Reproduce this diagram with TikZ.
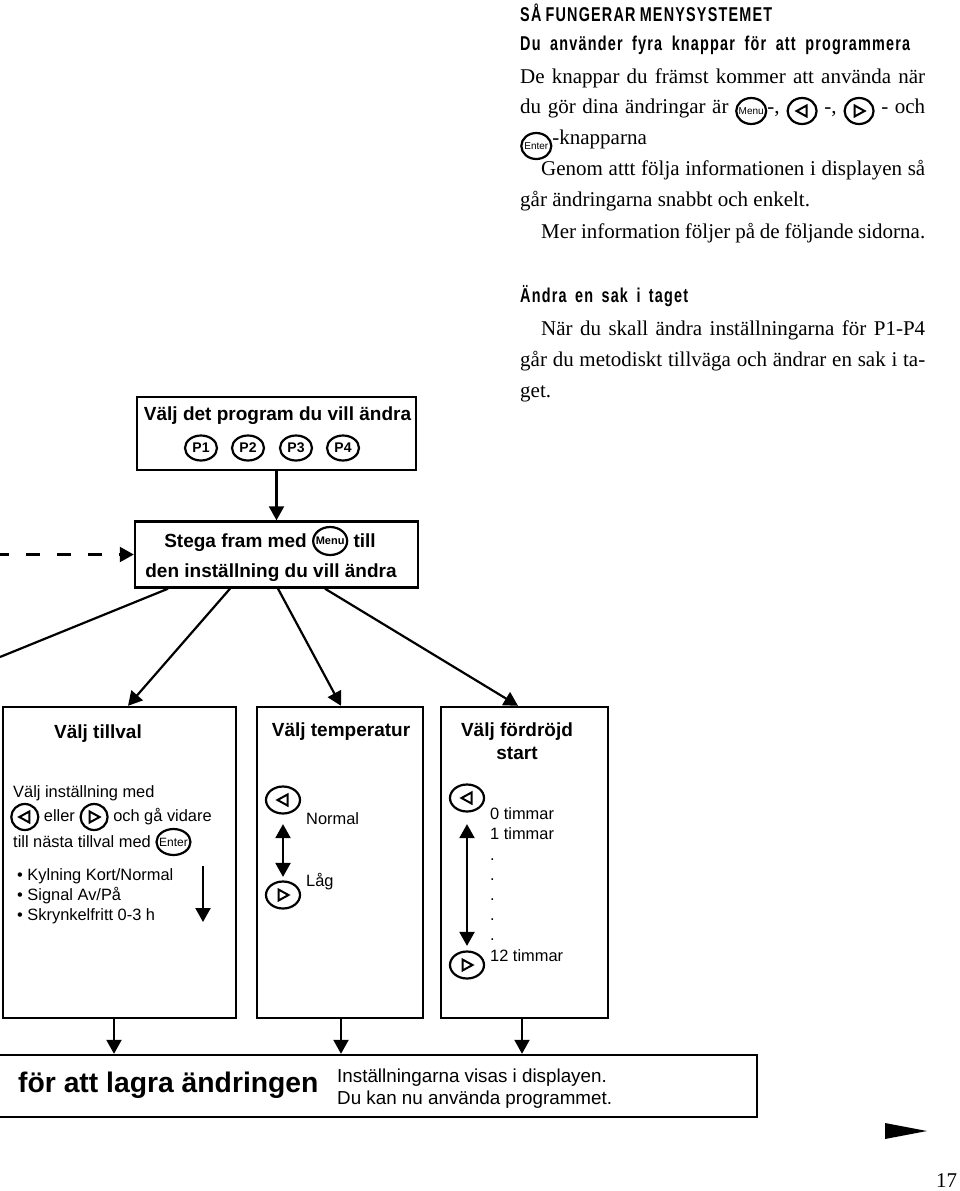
\documentclass[tikz,border=0pt]{standalone}
\usepackage{fontspec}
\setmainfont{Liberation Serif}
\setsansfont{Liberation Sans}
\newfontfamily\rubrikfont[FakeStretch=0.72,LetterSpace=6]{Liberation Sans}
\usetikzlibrary{arrows.meta,shapes.geometric}

\tikzset{
  ruta/.style={draw, line width=2.4pt, inner sep=0pt},
  pil/.style={line width=2.2pt, -{Triangle[length=14pt,width=15pt]}},
  dpil/.style={line width=2.2pt, {Triangle[length=14pt,width=15pt]}-{Triangle[length=14pt,width=15pt]}},
  knappform/.style={ellipse, draw, line width=2.2pt, inner sep=0pt, anchor=center},
  triangel/.style={line width=2pt, line join=miter},
  tekst/.style={inner sep=0pt, anchor=base west},
  fet/.style={inner sep=0pt, anchor=base, font=\sffamily\bfseries\fontsize{19}{22}\selectfont},
  brod/.style={tekst, font=\sffamily\fontsize{16.4}{20}\selectfont},
  serif/.style={tekst, font=\rmfamily\fontsize{21}{31}\selectfont},
  rubrik/.style={tekst, font=\rubrikfont\bfseries\fontsize{20}{22}\selectfont},
}

% knappar i texten
\newcommand{\knapp}[5]{\tikz[baseline=#1]{\node[knappform, minimum width=#2, minimum height=#3] (k) at (0pt,0pt) {};
  \node[inner sep=0pt, anchor=center, font=\sffamily\fontsize{#4}{#4}\selectfont] (kt) at (k.center) {#5};}}
\newcommand{\vknapp}[3]{\tikz[baseline=#1]{\node[knappform, minimum width=#2, minimum height=#3] (k) at (0pt,0pt) {};
  \draw[triangel] (4.5pt,5.5pt) -- (-5.5pt,0pt) -- (4.5pt,-5.5pt) -- cycle;}}
\newcommand{\hknapp}[3]{\tikz[baseline=#1]{\node[knappform, minimum width=#2, minimum height=#3] (k) at (0pt,0pt) {};
  \draw[triangel] (-4.5pt,5.5pt) -- (5.5pt,0pt) -- (-4.5pt,-5.5pt) -- cycle;}}

\begin{document}
\begin{tikzpicture}[x=1pt, y=-1pt]
\useasboundingbox (0,0) rectangle (960,1191);

% text till hoger
\node[rubrik] (h1) at (520,21) {\makebox[252pt][s]{SÅ FUNGERAR MENYSYSTEMET}};
\node[rubrik] (h2) at (520,50) {\makebox[390pt][s]{Du använder fyra knappar för att programmera}};
\node[serif] (t1) at (520,83) {\makebox[405pt][s]{De knappar du främst kommer att använda när}};
\node[serif] (t2) at (520,113) {\makebox[405pt][s]{du gör dina ändringar är \knapp{-2pt}{30pt}{26pt}{10}{Menu}-, \vknapp{-2pt}{29pt}{26pt} -, \hknapp{-2pt}{29pt}{26pt} - och}};
\node[serif] (t3) at (520,144) {\knapp{2pt}{30pt}{26pt}{10}{Enter}-knapparna};
\node[serif] (t4) at (541,175) {\makebox[384pt][s]{Genom attt följa informationen i displayen så}};
\node[serif] (t5) at (520,206) {går ändringarna snabbt och enkelt.};
\node[serif] (t6) at (541,238) {\makebox[384pt][s]{Mer information följer på de följande sidorna.}};
\node[rubrik] (h3) at (520,302) {\makebox[168pt][s]{Ändra en sak i taget}};
\node[serif] (t7) at (541,335) {\makebox[384pt][s]{När du skall ändra inställningarna för P1-P4}};
\node[serif] (t8) at (520,366) {\makebox[405pt][s]{går du metodiskt tillväga och ändrar en sak i ta-}};
\node[serif] (t9) at (520,397) {get.};

% rutorna
\node[ruta, minimum width=279pt, minimum height=73pt] (prog) at (276.5,433.5) {};
\node[ruta, minimum width=283pt, minimum height=66pt] (stega) at (276.5,554.5) {};
\node[ruta, minimum width=233pt, minimum height=311pt] (tillval) at (119.5,862.5) {};
\node[ruta, minimum width=166pt, minimum height=311pt] (temp) at (340,862.5) {};
\node[ruta, minimum width=167pt, minimum height=311pt] (fordrojd) at (524.5,862.5) {};
\node[ruta, minimum width=760pt, minimum height=62pt] (lagra) at (377,1086) {};

% valj program
\node[fet] (progtxt) at (277.5,420) {Välj det program du vill ändra};
\node[knappform, minimum width=32pt, minimum height=25pt, font=\sffamily\bfseries\fontsize{14}{14}\selectfont] (p1) at (201,448) {P1};
\node[knappform, minimum width=32pt, minimum height=25pt, font=\sffamily\bfseries\fontsize{14}{14}\selectfont] (p2) at (248,448) {P2};
\node[knappform, minimum width=32pt, minimum height=25pt, font=\sffamily\bfseries\fontsize{14}{14}\selectfont] (p3) at (296,448) {P3};
\node[knappform, minimum width=32pt, minimum height=25pt, font=\sffamily\bfseries\fontsize{14}{14}\selectfont] (p4) at (343,448) {P4};

% stega fram
\node[fet] (stega1) at (270,547) {Stega fram med \knapp{-6pt}{34pt}{28pt}{11}{Menu} till};
\node[fet] (stega2) at (271,577) {den inställning du vill ändra};

% valj tillval
\node[fet] (tvtxt) at (98,738) {Välj tillval};
\node[brod] (tv1) at (13,797) {Välj inställning med};
\node[brod] (tv2) at (10,821) {\vknapp{-4pt}{27pt}{26pt} eller \hknapp{-4pt}{27pt}{26pt} och gå vidare};
\node[brod] (tv3) at (13,847) {till nästa tillval med \knapp{-5pt}{34pt}{26pt}{12}{Enter}};
\node[brod] (tv4) at (17,880) {• Kylning Kort/Normal};
\node[brod] (tv5) at (17,900) {• Signal Av/På};
\node[brod] (tv6) at (17,920) {• Skrynkelfritt 0-3 h};
\coordinate (ned1) at (203,866);
\coordinate (ned2) at (203,922);
\draw[pil] (ned1) -- (ned2);

% valj temperatur
\node[fet] (temptxt) at (341,736) {Välj temperatur};
\node[knappform, minimum width=34pt, minimum height=27pt] (tv) at (283,800) {};
\node[knappform, minimum width=34pt, minimum height=27pt] (th) at (283,895) {};
\draw[triangel] ([shift={(4.5,5.5)}]tv.center) -- ([shift={(-5.5,0)}]tv.center) -- ([shift={(4.5,-5.5)}]tv.center) -- cycle;
\draw[triangel] ([shift={(-4.5,5.5)}]th.center) -- ([shift={(5.5,0)}]th.center) -- ([shift={(-4.5,-5.5)}]th.center) -- cycle;
\draw[dpil, shorten <=9.5pt, shorten >=3.5pt] (tv) -- (th);
\node[brod] (normal) at (306,824) {Normal};
\node[brod] (lag) at (306,886) {Låg};

% valj fordrojd start
\node[fet] (fdtxt1) at (517,736) {Välj fördröjd};
\node[fet] (fdtxt2) at (517,759) {start};
\node[knappform, minimum width=34pt, minimum height=27pt] (dv) at (467,798) {};
\node[knappform, minimum width=34pt, minimum height=27pt] (dh) at (467,965) {};
\draw[triangel] ([shift={(4.5,5.5)}]dv.center) -- ([shift={(-5.5,0)}]dv.center) -- ([shift={(4.5,-5.5)}]dv.center) -- cycle;
\draw[triangel] ([shift={(-4.5,5.5)}]dh.center) -- ([shift={(5.5,0)}]dh.center) -- ([shift={(-4.5,-5.5)}]dh.center) -- cycle;
\draw[dpil, shorten <=11.5pt, shorten >=4.5pt] (dv) -- (dh);
\node[brod] (tim0) at (490,819) {0 timmar};
\node[brod] (tim1) at (490,839) {1 timmar};
\node[brod] (pkt1) at (490,860) {.};
\node[brod] (pkt2) at (490,880) {.};
\node[brod] (pkt3) at (490,900) {.};
\node[brod] (pkt4) at (490,920) {.};
\node[brod] (pkt5) at (490,940) {.};
\node[brod] (tim12) at (490,961) {12 timmar};

% lagra
\node[tekst, font=\sffamily\bfseries\fontsize{28.3}{30}\selectfont] (lagratxt) at (18,1092) {för att lagra ändringen};
\node[tekst, font=\sffamily\fontsize{18.8}{22}\selectfont] (info1) at (337,1082) {Inställningarna visas i displayen.};
\node[tekst, font=\sffamily\fontsize{18.8}{22}\selectfont] (info2) at (337,1104) {Du kan nu använda programmet.};

% pilar
\draw[pil] (prog.south) -- (stega.north);
\coordinate (streck) at (0,554.5);
\draw[pil, dash pattern=on 14pt off 17pt, dash phase=5pt] (streck) -- (stega.west);
\coordinate (ut) at (0,657);
\draw[line width=2.2pt] ([xshift=-108.5pt]stega.south) -- (ut);
\draw[pil] ([xshift=-46.5pt]stega.south) -- ([xshift=8.5pt]tillval.north);
\draw[pil] ([xshift=1.5pt]stega.south) -- ([xshift=1pt]temp.north);
\draw[pil] ([xshift=48.5pt]stega.south) -- ([xshift=-6.5pt]fordrojd.north);
\coordinate (n1) at ([xshift=-5.5pt]tillval.south);
\coordinate (n2) at ([xshift=1pt]temp.south);
\coordinate (n3) at ([xshift=-2.5pt]fordrojd.south);
\draw[pil] (n1) -- (n1 |- lagra.north);
\draw[pil] (n2) -- (n2 |- lagra.north);
\draw[pil] (n3) -- (n3 |- lagra.north);

% sidfot
\fill (885,1123) -- (927,1131) -- (885,1139) -- cycle;
\node[tekst, font=\rmfamily\fontsize{21}{24}\selectfont] (sida) at (936,1187) {17};
\end{tikzpicture}
\end{document}
